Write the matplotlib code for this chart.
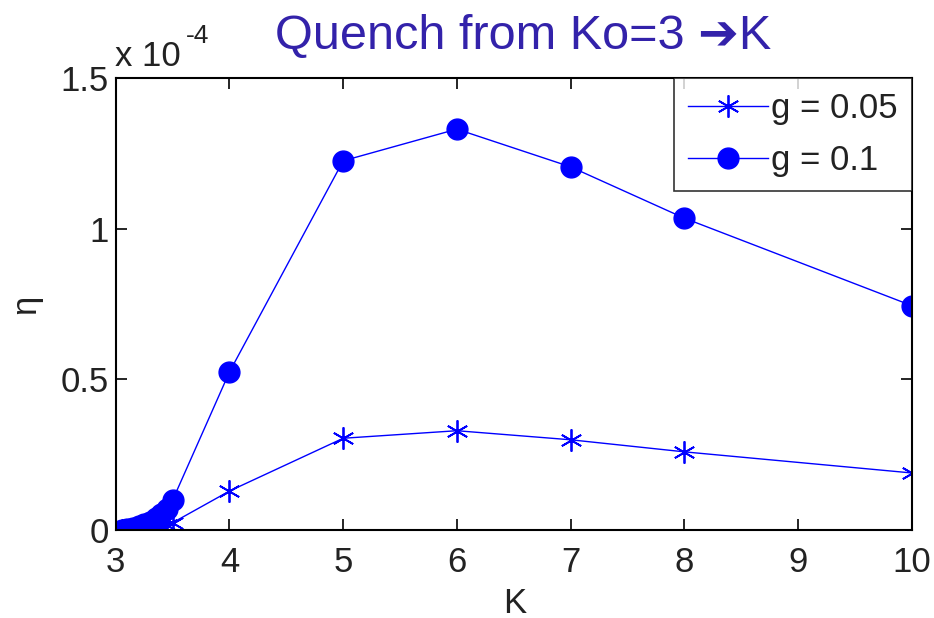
import numpy as np
import matplotlib
matplotlib.use("Agg")
import matplotlib.pyplot as plt

plt.rcParams['font.family'] = ['Liberation Sans', 'DejaVu Sans']

# K values (quench target) and eta in units of 1e-4
K = [3.05, 3.1, 3.15, 3.2, 3.25, 3.3, 3.35, 3.4, 3.45, 3.5, 4, 5, 6, 7, 8, 10]
eta_g005 = [0.0, 0.001, 0.002, 0.003, 0.005, 0.007, 0.009, 0.012, 0.016, 0.025,
            0.13, 0.305, 0.33, 0.30, 0.26, 0.19]
eta_g01 = [0.0, 0.004, 0.008, 0.013, 0.02, 0.028, 0.04, 0.055, 0.072, 0.10,
           0.525, 1.225, 1.33, 1.205, 1.035, 0.745]

xticks = [3, 4, 5, 6, 7, 8, 9, 10]
yticks = [0, 0.5, 1, 1.5]
ytick_labels = ['0', '0.5', '1', '1.5']


def make_plot():
    fig = plt.figure(figsize=(9.34, 6.18), dpi=100)
    ax = fig.add_axes([0.124, 0.142, 0.852, 0.732])

    ax.plot(K, eta_g005, color='#0000FF', lw=1.0, marker=(6, 2, 0), ms=16,
            markeredgewidth=1.3, label='g = 0.05')
    ax.plot(K, eta_g01, color='#0000FF', lw=1.0, marker='o', ms=15,
            label='g = 0.1')

    ax.set_xlim(3, 10)
    ax.set_ylim(0, 1.5)
    ax.set_xticks(xticks)
    ax.set_yticks(yticks)
    ax.set_yticklabels(ytick_labels)
    ax.tick_params(direction='in', length=8, width=1.2, top=True, right=True,
                   labelsize=25, labelcolor='#222222')
    ax.tick_params(axis='x', pad=11)
    ax.tick_params(axis='y', pad=5)
    for s in ax.spines.values():
        s.set_linewidth(1.5)

    ax.set_xlabel('K', fontsize=25, color='#222222')
    ax.set_ylabel('η', fontsize=25, color='#222222')
    ax.xaxis.set_label_coords(0.501, -0.125)
    ax.yaxis.set_label_coords(-0.093, 0.5)

    # exponent label in MATLAB style
    fig.text(0.123, 0.893, 'x 10', fontsize=25, color='#222222')
    fig.text(0.199, 0.93, '-4', fontsize=19, color='#222222')

    fig.text(0.56, 0.92, 'Quench from Ko=3 \u2794K', fontsize=35,
             color='#3322AA', ha='center')

    leg = ax.legend(loc='upper right', fontsize=25, frameon=True, fancybox=False,
                    borderaxespad=0, handlelength=2.3, handletextpad=0.1,
                    borderpad=0.4, labelspacing=0.55)
    leg.get_frame().set_edgecolor('black')
    leg.get_frame().set_linewidth(1.2)
    for t in leg.get_texts():
        t.set_color('#222222')

    fig.savefig('out.png', dpi=100)


if __name__ == "__main__":
    make_plot()
